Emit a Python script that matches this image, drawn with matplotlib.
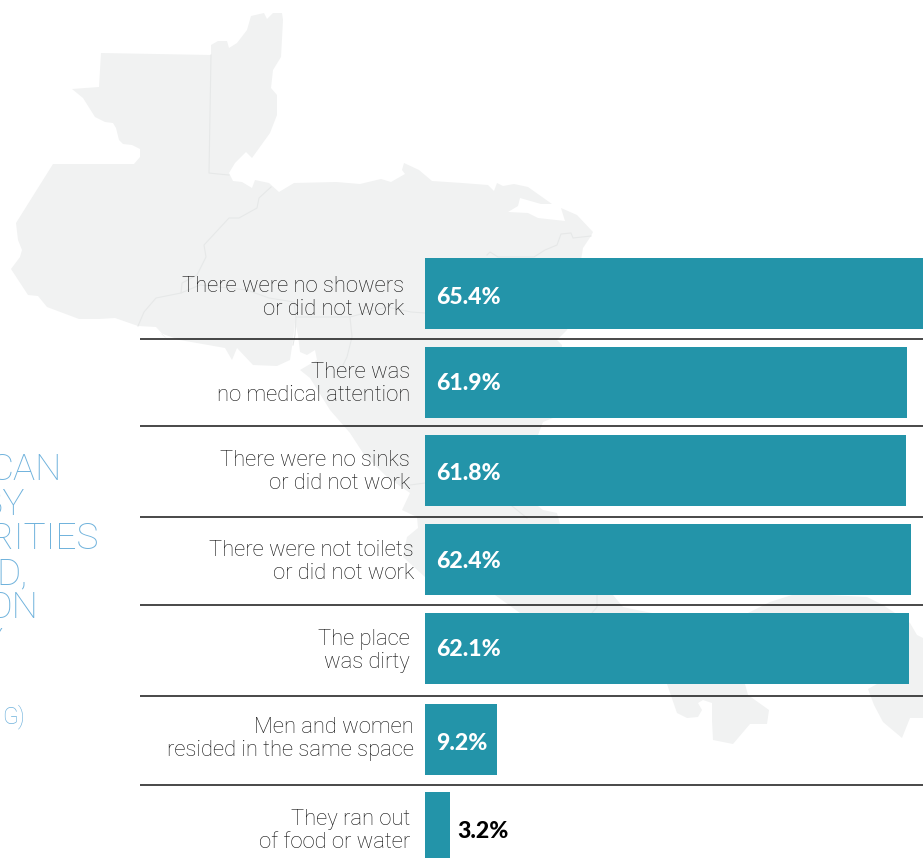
import matplotlib
matplotlib.use("Agg")
from matplotlib import pyplot as plt
from matplotlib.patches import Polygon
import numpy as np

W, H = 923, 858
dpi = 100
px = 72 / dpi  # one pixel in points

labels = [
    "There were no showers\nor did not work",
    "There was\nno medical attention",
    "There were no sinks\nor did not work",
    "There were not toilets\nor did not work",
    "The place\nwas dirty",
    "Men and women\nresided in the same space",
    "They ran out\nof food or water",
]
values = [65.4, 61.9, 61.8, 62.4, 62.1, 9.2, 3.2]

# side heading, cut off by the left edge of the page
heading_parts = ["CAN", "BY", "ORITIES", "D,", "ON", "Y"]
heading_note = "G)"

# land outline of the isthmus, page pixels
land_x = [72, 99, 101, 211, 211, 218, 227, 229, 237, 247, 251, 264, 267, 273, 282, 283, 281, 273, 271, 277, 277, 270,
          252, 246, 235, 229, 233, 242, 252, 255, 269, 279, 294, 336, 360, 381, 391, 405, 402, 404, 419, 432, 462, 488,
          494, 497, 503, 514, 528, 552, 541, 520, 518, 508, 528, 538, 565, 561, 577, 593, 591, 583, 581, 578, 567, 557,
          562, 553, 543, 538, 538, 543, 557, 560, 613, 623, 637, 652, 748, 770, 792, 827, 867, 883, 910, 917, 923, 923,
          910, 902, 883, 874, 868, 877, 745, 748, 769, 767, 750, 733, 713, 712, 712, 703, 698, 702, 698, 687, 677, 667,
          520, 495, 425, 403, 407, 418, 417, 402, 410, 387, 363, 350, 330, 310, 300, 317, 315, 307, 300, 298, 295, 293,
          290, 277, 253, 237, 232, 225, 180, 160, 168, 156, 138, 115, 99, 79, 47, 38, 28, 11, 20, 22, 18, 16, 53, 134,
          140, 140, 132, 123, 119, 116, 113, 105, 95, 83]
land_y = [89, 87, 53, 55, 45, 41, 41, 48, 43, 30, 16, 13, 19, 13, 13, 20, 57, 70, 88, 95, 115, 133,
          158, 152, 163, 173, 181, 182, 188, 180, 183, 192, 183, 182, 184, 179, 182, 174, 170, 163, 170, 181, 183, 185,
          191, 183, 186, 184, 187, 204, 204, 198, 206, 212, 213, 218, 221, 208, 215, 232, 236, 248, 260, 300, 330, 340,
          345, 418, 422, 435, 506, 510, 513, 524, 595, 607, 610, 613, 613, 602, 595, 595, 597, 605, 623, 635, 638, 718,
          718, 738, 722, 705, 689, 684, 684, 695, 710, 724, 724, 744, 740, 720, 703, 700, 703, 710, 717, 718, 713, 684,
          613, 595, 577, 557, 537, 528, 517, 510, 493, 477, 453, 433, 410, 378, 370, 360, 350, 355, 352, 335, 322, 340,
          360, 366, 365, 348, 360, 348, 340, 333, 340, 327, 326, 318, 319, 319, 307, 296, 295, 269, 257, 250, 240, 223, 164, 164,
          157, 149, 145, 144, 140, 128, 123, 122, 117, 98]

# internal borders, page pixels
border_lines = [
    [(211, 55), (209, 173), (218, 174), (229, 175)],
    [(271, 187), (259, 198), (257, 208), (239, 218), (229, 218), (204, 245), (206, 257), (197, 275), (182, 283),
     (181, 293), (156, 298), (144, 312), (138, 326)],
    [(181, 293), (200, 285), (247, 290), (269, 298), (294, 302), (296, 317), (350, 317), (387, 307), (411, 312), (425, 313)],
    [(296, 317), (295, 335), (293, 345)],
    [(350, 317), (352, 337), (347, 357), (343, 365)],
    [(591, 236), (573, 238), (571, 233), (561, 234), (557, 245), (545, 250), (534, 257), (498, 257), (490, 252), (487, 255)],
    [(410, 485), (425, 483)],
    [(512, 506), (527, 518)],
    [(597, 595), (597, 607), (592, 613)],
]

fig = plt.figure(figsize=(W / dpi, H / dpi), dpi=dpi, facecolor="white")

# page layer in pixel units, y pointing down
page = fig.add_axes([0, 0, 1, 1], zorder=1)
page.set_xlim(0, W)
page.set_ylim(H, 0)
page.axis("off")

page.add_patch(Polygon(np.column_stack([land_x, land_y]), closed=True, fc="#f1f2f2", ec="none", zorder=1))
for line in border_lines:
    xs, ys = zip(*line)
    page.plot(xs, ys, color="#e6e8e8", lw=1.1 * px, zorder=2, solid_joinstyle="round")

# rules between rows
for y in [339, 426, 517, 605, 696, 785]:
    page.plot([140, W], [y, y], color="#111111", lw=1.5 * px, zorder=3, solid_capstyle="butt")

# bars, same pixel rows as the rules above
bar_left = 425
per_unit = 7.79  # px per percentage point
bar_top = [258, 347, 435, 524, 613, 704, 792]
bar_h = [71, 71, 71, 71, 71, 71, 66]
ax = fig.add_axes([bar_left / W, 0, (W - bar_left) / W, 1], zorder=2)
ax.patch.set_alpha(0)
ax.set_xlim(0, (W - bar_left) / per_unit)
ax.set_ylim(H, 0)
ax.axis("off")
ax.barh(bar_top, values, height=bar_h, align="edge", color="#2394a9", linewidth=0)

label_right = [404, 410, 410, 414, 410, 414, 410]
label_mid = [298, 384, 472, 562, 651, 739, 831]
for text, xr, ym in zip(labels, label_right, label_mid):
    page.text(xr, ym, text, ha="right", va="center", ma="right", family="Roboto", weight="light",
              fontsize=22 * px, color="#111111", linespacing=1.13, zorder=4)

value_y = [297, 384, 473, 562, 650, 743, 831]
for v, y in zip(values, value_y):
    inside = v > 5
    x = 1.4 if inside else v + 0.9
    ax.text(x, y, f"{v}%", ha="left", va="center", family="Lato", weight="black",
            fontsize=23 * px, color="white" if inside else "black")

heading_right = [62, 25, 99, 28, 38, 3]
heading_base = [480, 515, 549, 584, 618, 654]
for text, xr, yb in zip(heading_parts, heading_right, heading_base):
    page.text(xr, yb, text, ha="right", va="baseline", family="Roboto", weight="light",
              fontsize=37 * px, color="#6fb2dc", zorder=4)
page.text(25, 723, heading_note, ha="right", va="baseline", family="Roboto", weight="light",
          fontsize=23 * px, color="#6fb2dc", zorder=4)

plt.savefig("out.png", dpi=dpi)
